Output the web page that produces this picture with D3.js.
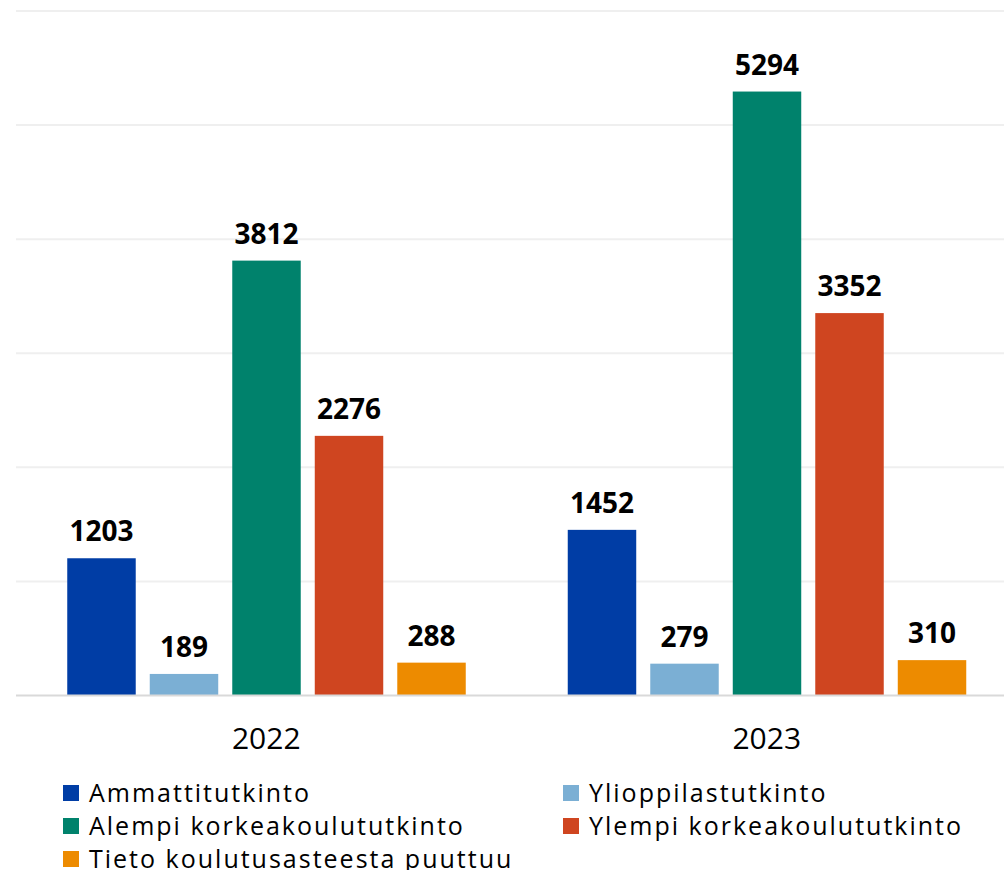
<!DOCTYPE html>
<html><head><meta charset="utf-8">
<script src="https://cdn.jsdelivr.net/npm/d3@7"></script>
<style>html,body{margin:0;padding:0;background:#fff;overflow:hidden}</style>
</head><body>
<svg id="c" width="1004" height="870"></svg>
<script>
const years = ["2022", "2023"];
const seriesNames = ["Ammattitutkinto", "Ylioppilastutkinto", "Alempi korkeakoulututkinto", "Ylempi korkeakoulututkinto", "Tieto koulutusasteesta puuttuu"];
const seriesColors = ["#003DA5", "#7BAFD4", "#00826C", "#CF4520", "#ED8B00"];
const values2022 = [1203, 189, 3812, 2276, 288];
const values2023 = [1452, 279, 5294, 3352, 310];
const yTicks = [0, 1000, 2000, 3000, 4000, 5000, 6000];

const valuesByYear = {"2022": values2022, "2023": values2023};
const svg = d3.select("#c");
const font = "'Open Sans', 'DejaVu Sans', sans-serif";

const y = d3.scaleLinear().domain([0, 6000]).range([695.5, 11]);
const x0 = d3.scaleBand().domain(years).range([16, 1017]).padding(0);
const x1 = d3.scaleBand().domain(seriesNames).range([51.25, 449.75]).paddingInner(0.17).paddingOuter(0);
const color = d3.scaleOrdinal().domain(seriesNames).range(seriesColors);

// gridlines
svg.append("g").selectAll("line").data(yTicks.filter(d => d > 0)).join("line")
  .attr("x1", 16).attr("x2", 1004)
  .attr("y1", d => y(d)).attr("y2", d => y(d))
  .attr("stroke", "#efefef").attr("stroke-width", 2);

// bars
const groups = svg.append("g").selectAll("g").data(years).join("g")
  .attr("transform", d => `translate(${x0(d)},0)`);
groups.selectAll("rect").data(yr => seriesNames.map((s, i) => ({s, v: valuesByYear[yr][i]}))).join("rect")
  .attr("x", d => x1(d.s)).attr("width", x1.bandwidth())
  .attr("y", d => y(d.v)).attr("height", d => y(0) - y(d.v))
  .attr("fill", d => color(d.s));
groups.selectAll("text").data(yr => seriesNames.map((s, i) => ({s, v: valuesByYear[yr][i]}))).join("text")
  .attr("x", d => x1(d.s) + x1.bandwidth() / 2).attr("y", d => y(d.v) - 17)
  .attr("text-anchor", "middle").attr("font-family", font).attr("font-weight", "bold")
  .attr("font-size", 28).attr("fill", "#000").text(d => d.v);

// baseline
svg.append("line").attr("x1", 16).attr("x2", 1004).attr("y1", y(0)).attr("y2", y(0))
  .attr("stroke", "#d9d9d9").attr("stroke-width", 2);

// x axis
const xAxis = d3.axisBottom(x0).tickSize(0).tickPadding(0);
const ax = svg.append("g").attr("transform", `translate(0,${y(0)})`).call(xAxis);
ax.select(".domain").remove();
ax.selectAll("text").attr("font-family", font).attr("font-size", 30).attr("fill", "#000")
  .attr("dy", null).attr("y", 53);

// legend
const legPos = [[63, 793], [563, 793], [63, 826], [563, 826], [63, 859]];
const leg = svg.append("g").selectAll("g").data(seriesNames).join("g")
  .attr("transform", (d, i) => `translate(${legPos[i][0]},${legPos[i][1]})`);
leg.append("rect").attr("x", 0).attr("y", -8).attr("width", 16).attr("height", 16).attr("fill", d => color(d));
leg.append("text").attr("x", 26).attr("y", 9).attr("font-family", font).attr("font-size", 25)
  .attr("letter-spacing", 2).attr("fill", "#000").text(d => d);
</script>
</body></html>
